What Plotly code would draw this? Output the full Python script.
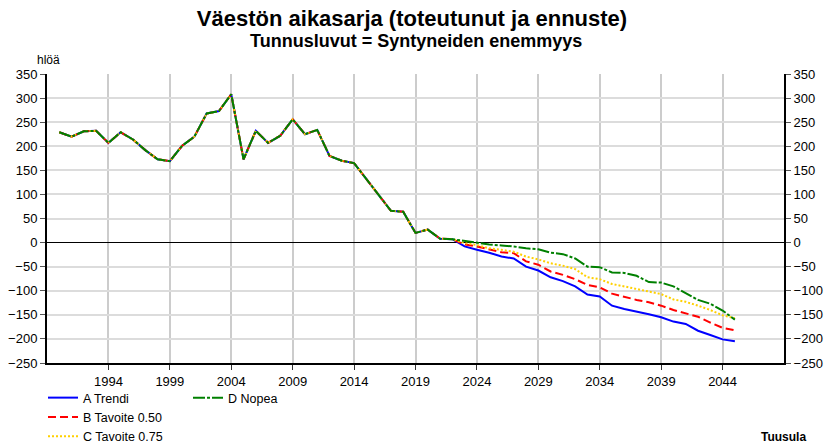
import plotly.graph_objects as go

# ---- data ----
years = list(range(1990, 2046))
hist = [229, 220, 231, 232, 207, 229, 214, 192, 173, 169, 201, 220, 268, 273, 308,
        173, 232, 207, 222, 256, 225, 234, 180, 170, 165, 132, 98, 66, 64, 20, 27, 8, 7]
fc_a = [-8, -15, -21, -29, -33, -50, -58, -72, -80, -91, -108, -112, -131, -138, -143,
        -149, -155, -164, -169, -183, -192, -201, -205]
fc_b = [-4, -8, -14, -20, -22, -39, -46, -60, -67, -76, -88, -93, -106, -113, -119,
        -124, -131, -140, -147, -154, -166, -177, -182]
fc_c = [-1, -5, -12, -15, -19, -29, -35, -43, -48, -55, -72, -76, -86, -91, -96,
        -102, -107, -118, -123, -131, -140, -151, -157]
fc_d = [3, 0, -4, -6, -8, -12, -14, -21, -24, -33, -50, -51, -62, -63, -69,
        -82, -83, -91, -105, -119, -127, -141, -160]
names = ["A Trendi", "B Tavoite 0.50", "C Tavoite 0.75", "D Nopea"]
tick_years = list(range(1994, 2045, 5))
y_ticks = list(range(-250, 351, 50))

FONT = "Liberation Sans, Arial, sans-serif"
PW = 737.0  # plot width px
PH = 289.0  # plot height px

series = [
    (names[0], hist + fc_a, "#0000ff", "solid", "legend"),
    (names[1], hist + fc_b, "#ff0000", "8px,4px", "legend"),
    (names[2], hist + fc_c, "#ffd000", "2px,2px", "legend"),
    (names[3], hist + fc_d, "#008000", "12px,2px,3px,2px", "legend2"),
]

fig = go.Figure()
for name, vals, col, dash, lg in series:
    fig.add_trace(go.Scatter(x=years, y=vals, name=name, mode="lines",
                             line=dict(color=col, width=2, dash=dash),
                             legend=lg))
# right-side axis companion
fig.add_trace(go.Scatter(x=[None], y=[None], yaxis="y2", showlegend=False,
                         hoverinfo="skip"))

W, H = 824, 448
fig.update_layout(
    width=W, height=H,
    margin=dict(l=47, r=W - 784, t=74, b=H - 363, autoexpand=False),
    paper_bgcolor="white", plot_bgcolor="white",
    font=dict(family=FONT, size=13, color="#000000"),
    title=dict(text="<b>Väestön aikasarja (toteutunut ja ennuste)</b>",
               x=0.5, xanchor="center", y=1 - 18 / H, yanchor="middle",
               font=dict(size=22, family=FONT, color="#000")),
    xaxis=dict(range=[1989, 2049], tickmode="array", tickvals=tick_years,
               ticktext=[str(t) for t in tick_years],
               showgrid=True, gridcolor="#cccccc", gridwidth=1.5,
               showline=True, linecolor="#000000", linewidth=2,
               ticks="outside", ticklen=5, tickcolor="#333333",
               tickfont=dict(size=13), zeroline=False),
    yaxis=dict(range=[-250, 350], tickmode="array", tickvals=y_ticks,
               showgrid=True, gridcolor="#dcdcdc", gridwidth=1.5,
               showline=True, linecolor="#000000", linewidth=2,
               ticks="outside", ticklen=5, tickcolor="#555555",
               tickfont=dict(size=13),
               zeroline=True, zerolinecolor="#000000", zerolinewidth=1),
    yaxis2=dict(range=[-250, 350], tickmode="array", tickvals=y_ticks,
                overlaying="y", side="right", showgrid=False, zeroline=False,
                showline=True, linecolor="#000000", linewidth=2,
                ticks="outside", ticklen=5, tickcolor="#555555",
                tickfont=dict(size=13)),
    legend=dict(x=(43 - 47) / PW, y=-20 / PH, xanchor="left", yanchor="top",
                orientation="v", bgcolor="rgba(0,0,0,0)",
                font=dict(size=12.5), tracegroupgap=0, itemwidth=30),
    legend2=dict(x=(188 - 47) / PW, y=-20 / PH, xanchor="left", yanchor="top",
                 orientation="v", bgcolor="rgba(0,0,0,0)",
                 font=dict(size=12.5), itemwidth=30),
    annotations=[
        dict(text="<b>Tunnusluvut = Syntyneiden enemmyys</b>", xref="paper", yref="paper",
             x=0.5, y=(363 - 41) / PH, xanchor="center", yanchor="middle",
             showarrow=False, font=dict(size=18)),
        dict(text="hlöä", xref="paper", yref="paper", x=(35 - 47) / PW,
             y=(363 - 60) / PH, xanchor="left", yanchor="middle",
             showarrow=False, font=dict(size=12)),
        dict(text="<b>Tuusula</b>", xref="paper", yref="paper", x=(808 - 47) / PW,
             y=(363 - 437) / PH, xanchor="right", yanchor="middle",
             showarrow=False, font=dict(size=12)),
    ],
    showlegend=True,
)

fig.write_html("out.html", config={"displayModeBar": False},
               post_script="document.body.style.margin='0';")
